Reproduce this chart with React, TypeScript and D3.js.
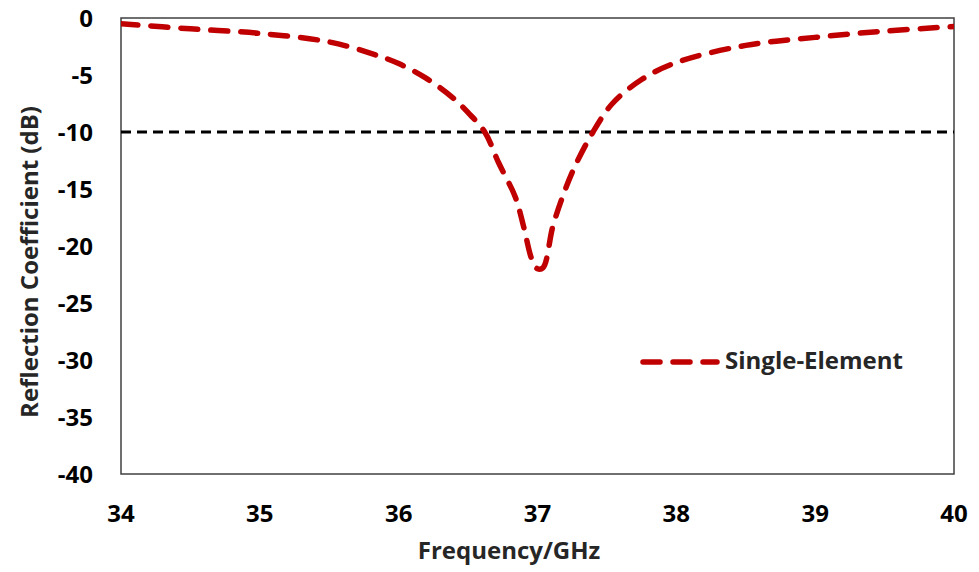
import React from "react";
import * as d3 from "d3";

const freq = [34, 34.5, 35, 35.5, 35.8, 36, 36.2, 36.4, 36.5, 36.62, 36.72, 36.84, 36.9, 36.96, 37.0, 37.04, 37.11, 37.18, 37.27, 37.4, 37.54, 37.75, 38, 38.5, 39, 39.5, 40];
const s11 = [-0.5, -0.95, -1.35, -2.1, -3.1, -4.0, -5.3, -7.1, -8.3, -10, -12.7, -15.7, -18.3, -21.2, -22.0, -21.9, -18.3, -15.7, -13.0, -10, -7.5, -5.4, -3.9, -2.4, -1.7, -1.15, -0.75];
const xTicks = [34, 35, 36, 37, 38, 39, 40];
const yTicks = [0, -5, -10, -15, -20, -25, -30, -35, -40];
const threshold = -10;
const seriesName = "Single-Element";

const W = 979, H = 572;
const L = 121, R = 954, T = 18, B = 474;

export default function App() {
  const x = d3.scaleLinear().domain([34, 40]).range([L, R]);
  const y = d3.scaleLinear().domain([0, -40]).range([T, B]);
  const pts: [number, number][] = freq.map((f, i) => [f, s11[i]]);
  const line = d3.line<[number, number]>().x(d => x(d[0])).y(d => y(d[1])).curve(d3.curveCatmullRom.alpha(0.5));
  const font = "'Open Sans', sans-serif";
  const fs = 24;
  return (
    <svg width={W} height={H} style={{ position: "absolute", left: 0, top: 0 }}>
      <rect width={W} height={H} fill="#fff" />
      <defs>
        <clipPath id="pc"><rect x={L} y={T - 5} width={R - L} height={B - T + 5} /></clipPath>
      </defs>
      <rect x={L} y={T} width={R - L} height={B - T} fill="none" stroke="#404040" strokeWidth={1.5} />
      <line x1={L} x2={R} y1={y(threshold)} y2={y(threshold)} stroke="#000" strokeWidth={3} strokeDasharray="10 6" />
      <path d={line(pts) || ""} fill="none" stroke="#c00000" strokeWidth={5.5} strokeDasharray="17 13" strokeLinecap="round" clipPath="url(#pc)" />
      {yTicks.map(t => (
        <text key={t} x={93} y={y(t) + 8.5} textAnchor="end" fontFamily={font} fontWeight="bold" fontSize={fs} fill="#000">{t}</text>
      ))}
      {xTicks.map(t => (
        <text key={t} x={x(t)} y={522} textAnchor="middle" fontFamily={font} fontWeight="bold" fontSize={fs} fill="#000">{t}</text>
      ))}
      <text x={509} y={559} textAnchor="middle" fontFamily={font} fontWeight="bold" fontSize={fs} fill="#262626">Frequency/GHz</text>
      <text transform={`translate(38,262) rotate(-90)`} textAnchor="middle" fontFamily={font} fontWeight="bold" fontSize={fs} fill="#262626">Reflection Coefficient (dB)</text>
      <line x1={643} x2={717} y1={362} y2={362} stroke="#c00000" strokeWidth={5.5} strokeDasharray="17 13" strokeLinecap="round" />
      <text x={725} y={369} fontFamily={font} fontWeight="bold" fontSize={fs} fill="#262626">{seriesName}</text>
    </svg>
  );
}
